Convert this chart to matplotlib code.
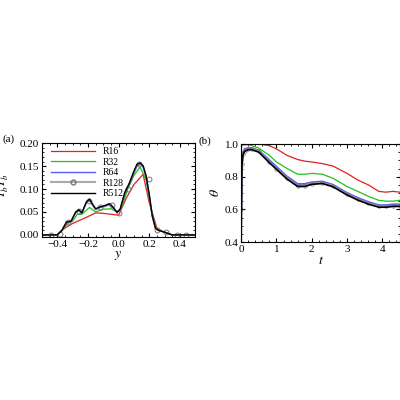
import matplotlib
matplotlib.use("Agg")
import matplotlib.pyplot as plt

plt.rcParams["font.family"] = ["Liberation Serif", "DejaVu Serif"]
plt.rcParams["mathtext.fontset"] = "stix"

# panel (a): Y'Y' profiles vs y
y16 = [-0.5, -0.4, -0.35, -0.3, -0.2, -0.15, -0.1, -0.05, 0.0, 0.05, 0.1, 0.16, 0.2, 0.25, 0.3, 0.35, 0.5]
v16 = [0.0, 0.0, 0.015, 0.025, 0.04, 0.048, 0.047, 0.045, 0.043, 0.08, 0.11, 0.132, 0.07, 0.015, 0.005, 0.0, 0.0]
y32 = [-0.5, -0.4, -0.37, -0.33, -0.3, -0.27, -0.24, -0.19, -0.15, -0.1, -0.05, -0.01, 0.02, 0.06, 0.1, 0.14, 0.18, 0.22, 0.25, 0.3, 0.35, 0.5]
v32 = [0.0, 0.0, 0.01, 0.025, 0.03, 0.045, 0.045, 0.06, 0.05, 0.056, 0.057, 0.05, 0.06, 0.1, 0.13, 0.148, 0.12, 0.04, 0.012, 0.006, 0.0, 0.0]
y_hi = [-0.5, -0.4, -0.37, -0.34, -0.31, -0.28, -0.26, -0.24, -0.21, -0.19, -0.17, -0.15, -0.12, -0.09, -0.06, -0.04, -0.01, 0.01, 0.04, 0.07, 0.1, 0.12, 0.14, 0.16, 0.18, 0.2, 0.22, 0.24, 0.26, 0.3, 0.35, 0.5]
v64 = [0.0, 0.0, 0.01, 0.027, 0.03, 0.048, 0.053, 0.047, 0.07, 0.075, 0.065, 0.055, 0.06, 0.062, 0.066, 0.06, 0.05, 0.055, 0.09, 0.11, 0.135, 0.15, 0.154, 0.148, 0.125, 0.085, 0.04, 0.015, 0.01, 0.006, 0.0, 0.0]
v128 = [0.0, 0.0, 0.01, 0.028, 0.03, 0.05, 0.055, 0.048, 0.072, 0.078, 0.066, 0.056, 0.061, 0.064, 0.068, 0.062, 0.05, 0.056, 0.092, 0.112, 0.138, 0.153, 0.156, 0.15, 0.128, 0.088, 0.042, 0.015, 0.01, 0.006, 0.0, 0.0]
v512 = [0.0, 0.0, 0.01, 0.028, 0.03, 0.05, 0.055, 0.048, 0.072, 0.078, 0.067, 0.057, 0.061, 0.064, 0.068, 0.062, 0.049, 0.056, 0.092, 0.113, 0.139, 0.154, 0.157, 0.151, 0.128, 0.088, 0.042, 0.015, 0.01, 0.006, 0.0, 0.0]
mk_y = [-0.44, -0.38, -0.33, -0.26, -0.19, -0.12, -0.04, 0.0, 0.06, 0.13, 0.2, 0.25, 0.31, 0.38, 0.44]
mk_v = [0.0, 0.002, 0.028, 0.052, 0.075, 0.06, 0.066, 0.048, 0.1, 0.155, 0.122, 0.011, 0.006, 0.0, 0.0]

# panel (b): theta vs t
t = [0.0, 0.02, 0.05, 0.1, 0.2, 0.3, 0.5, 0.8, 1.0, 1.3, 1.6, 1.8, 2.0, 2.3, 2.6, 3.0, 3.3, 3.6, 3.9, 4.1, 4.3, 4.5]
th16 = [1.0, 1.0, 1.0, 1.0, 1.0, 1.0, 1.0, 0.99, 0.97, 0.93, 0.905, 0.895, 0.89, 0.88, 0.865, 0.82, 0.78, 0.75, 0.71, 0.705, 0.71, 0.705]
th32 = [0.98, 0.99, 0.995, 0.995, 0.995, 0.99, 0.975, 0.93, 0.89, 0.85, 0.815, 0.815, 0.82, 0.815, 0.79, 0.74, 0.71, 0.68, 0.655, 0.65, 0.65, 0.655]
th64 = [0.6, 0.9, 0.95, 0.97, 0.975, 0.975, 0.96, 0.9, 0.86, 0.8, 0.755, 0.755, 0.765, 0.77, 0.75, 0.7, 0.67, 0.645, 0.625, 0.625, 0.63, 0.63]
th128 = [0.6, 0.88, 0.94, 0.96, 0.97, 0.97, 0.955, 0.89, 0.85, 0.79, 0.745, 0.745, 0.758, 0.763, 0.743, 0.693, 0.662, 0.637, 0.618, 0.618, 0.622, 0.622]
th512 = [0.4, 0.87, 0.935, 0.955, 0.965, 0.965, 0.95, 0.885, 0.845, 0.785, 0.74, 0.74, 0.753, 0.758, 0.738, 0.688, 0.657, 0.632, 0.613, 0.613, 0.618, 0.618]

fig = plt.figure(figsize=(4, 4), dpi=100)
ax1 = fig.add_axes([0.105, 0.407, 0.383, 0.235])
ax2 = fig.add_axes([0.603, 0.395, 0.397, 0.245])

ax1.plot(y16, v16, color="#e02020", lw=0.9, label="R16")
ax1.plot(y32, v32, color="#20c020", lw=0.9, label="R32")
ax1.plot(y_hi, v64, color="#3030ff", lw=1.0, label="R64", alpha=0.8)
ax1.plot(y_hi, v128, color="#999999", lw=1.0)
ax1.plot(mk_y, mk_v, ls="none", marker="o", ms=3.5, mfc="none", mec="#777777", mew=0.7)
ax1.plot([], [], color="#aaaaaa", lw=1.5, marker="o", ms=3.5, mfc="none", mec="#777777", label="R128")
ax1.plot(y_hi, v512, color="black", lw=1.0, label="R512")
ax1.set_xlim(-0.5, 0.5)
ax1.set_ylim(-0.005, 0.2)
ax1.set_xticks([-0.4, -0.2, 0.0, 0.2, 0.4])
ax1.set_yticks([0.0, 0.05, 0.1, 0.15, 0.2])
ax1.set_yticklabels(["0.00", "0.05", "0.10", "0.15", "0.20"])
ax1.set_xlabel(r"$y$", fontsize=10, labelpad=0)
ax1.set_ylabel(r"$\overline{Y_b'Y_b'}$", fontsize=9)
ax1.yaxis.set_label_coords(-0.2, 0.55)
ax1.legend(loc="upper left", fontsize=7, frameon=False, handlelength=4.5, labelspacing=0.15,
           borderaxespad=0.2, bbox_to_anchor=(0.02, 1.02))
ax1.text(-0.26, 1.02, "(a)", transform=ax1.transAxes, fontsize=8)

ax2.plot(t, th16, color="#e02020", lw=0.9)
ax2.plot(t, th32, color="#20c020", lw=0.9)
ax2.plot(t, th64, color="#3030ff", lw=1.5, alpha=0.8)
ax2.plot(t, th128, color="#999999", lw=1.5, marker="o", ms=2.5, mfc="none", mec="#777777", mew=0.5)
ax2.plot(t, th512, color="black", lw=1.2)
ax2.set_xlim(0, 4.5)
ax2.set_ylim(0.4, 1.0)
ax2.set_xticks([0, 1, 2, 3, 4])
ax2.set_yticks([0.4, 0.6, 0.8, 1.0])
ax2.set_xlabel(r"$t$", fontsize=10, labelpad=0)
ax2.set_ylabel(r"$\theta$", fontsize=10, labelpad=2)
ax2.text(-0.27, 1.0, "(b)", transform=ax2.transAxes, fontsize=8)

for ax in (ax1, ax2):
    ax.tick_params(direction="in", labelsize=8, length=3, top=True, right=True, pad=2)
    ax.minorticks_on()
    ax.tick_params(which="minor", direction="in", length=1.5, top=True, right=True)

fig.savefig("out.png", dpi=100)
